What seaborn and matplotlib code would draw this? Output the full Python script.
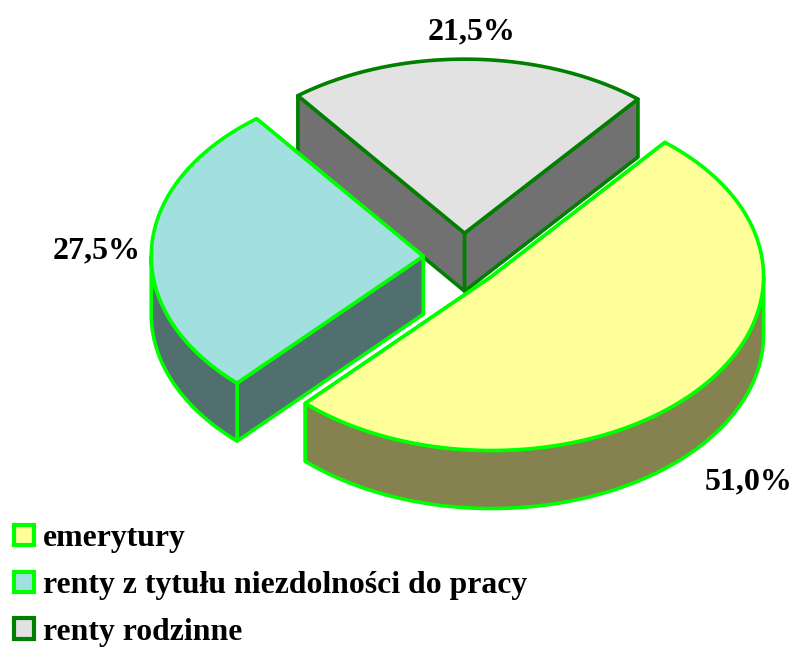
#!/bin/env python3
import numpy as np
import matplotlib
matplotlib.use("Agg")
import matplotlib.pyplot as plt
from matplotlib.patches import Polygon, Patch
import seaborn as sns

# data
categories = ["emerytury", "renty z tytułu niezdolności do pracy", "renty rodzinne"]
values = [51.0, 27.5, 21.5]

# styles
top_colors = ["#ffff99", "#a2e0e0", "#e2e2e2"]
wall_colors = ["#85824f", "#516f6f", "#717171"]
edge_colors = ["#00ff00", "#00ff00", "#007f00"]
explode_x = [0.135, 0.15, 0.135]
explode_y = [0.165, 0.155, 0.14]
label_pos = [(749, 482), (97, 251), (472, 32)]

sns.set_theme(style="white")
plt.rcParams["font.family"] = ["Liberation Serif", "DejaVu Serif"]

# pie geometry in pixels
cx, cy = 464, 257.5
a, b = 272, 174
depth = 58
start_angle = 50.4
lw = 2.6

f, ax = plt.subplots(figsize=(7.95, 6.48), dpi=100)
ax.set_position([0, 0, 1, 1])
ax.set_xlim(0, 795)
ax.set_ylim(648, 0)
ax.axis("off")


def ring(x0, y0, t1, t2):
    t = np.radians(np.linspace(t1, t2, 120))
    return np.column_stack([x0 + a * np.cos(t), y0 - b * np.sin(t)])


def add_poly(pts, face, edge, z):
    ax.add_patch(Polygon(pts, closed=True, facecolor=face, edgecolor=edge,
                         linewidth=lw, joinstyle="round", zorder=z))


shift = np.array([0, depth])
angle = start_angle
spans = []
for i, v in enumerate(values):
    t1 = angle
    t2 = angle - v / sum(values) * 360
    angle = t2
    spans.append((i, t1, t2))

# slices clockwise: yellow, blue, gray; gray sits at the back so draw it first
for i, t1, t2 in [spans[2], spans[1], spans[0]]:
    mid = np.radians((t1 + t2) / 2)
    x0 = cx + explode_x[i] * a * np.cos(mid)
    y0 = cy - explode_y[i] * b * np.sin(mid)
    z = {2: 1, 1: 2, 0: 3}[i]
    apex = np.array([x0, y0])
    p1 = ring(x0, y0, t1, t1)[0]
    p2 = ring(x0, y0, t2, t2)[0]
    # cut faces, the one nearer the viewer goes last
    for p in sorted([p1, p2], key=lambda q: q[1]):
        add_poly([apex, p, p + shift, apex + shift], wall_colors[i], edge_colors[i], z)
    # outer wall, only the front part of the rim shows
    for k in range(-1, 1):
        s, e = max(t2, -180 + 360 * k), min(t1, 360 * k)
        if e > s:
            arc = ring(x0, y0, e, s)
            add_poly(np.vstack([arc, (arc + shift)[::-1]]), wall_colors[i], edge_colors[i], z)
    # top
    add_poly(np.vstack([apex[None, :], ring(x0, y0, t1, t2)]), top_colors[i], edge_colors[i], z)

for v, (lx, ly) in zip(values, label_pos):
    ax.text(lx, ly, f"{v:.1f}%".replace(".", ","), ha="center", va="center",
            fontsize=23, fontweight="bold", color="black", zorder=6)

handles = [Patch(facecolor=c, edgecolor=e, linewidth=3)
           for c, e in zip(top_colors, edge_colors)]
leg = ax.legend(handles, categories, loc="lower left", bbox_to_anchor=(14 / 795, 1 / 648),
                frameon=False, borderpad=0, borderaxespad=0, handlelength=0.62, handleheight=0.62,
                handletextpad=0.3, labelspacing=0.56,
                prop={"family": "Liberation Serif", "weight": "bold", "size": 22.9})
for t in leg.get_texts():
    t.set_color("black")

plt.savefig("out.png", dpi=100)
